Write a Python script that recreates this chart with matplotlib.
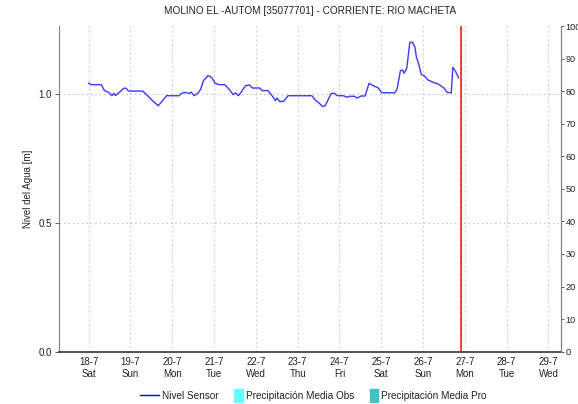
import matplotlib
matplotlib.use("Agg")
import matplotlib.pyplot as plt
from matplotlib.lines import Line2D
from matplotlib.patches import Patch, Rectangle
from matplotlib.legend_handler import HandlerPatch

plt.rcParams['font.family'] = ['Liberation Sans', 'DejaVu Sans']
plt.rcParams['font.size'] = 7

# horas desde 18-7 00:00 y nivel del sensor [m]
horas = [0, 1.5, 7.3, 9.1, 12, 13.3, 14.5, 15.4, 17.7, 20.2, 21.5, 22.9, 31.0,
         33.9, 36.7, 40, 42.5, 44.7, 52, 53.3, 55.4, 57.7, 58.9, 60.6, 63, 64.4,
         65.9, 68.6, 70.7, 72.6, 74.9, 78.1, 80.6, 83, 84.4, 85.9, 87.3, 90.1,
         92.4, 93.9, 98.3, 99.6, 103, 105.3, 107.3, 108.2, 109.7, 112, 114.5,
         128.2, 130.1, 132, 134.3, 135.8, 139.3, 141.1, 143, 146.3, 148.2, 150.1,
         152.4, 154.3, 156.4, 158.7, 161, 163.4, 166.3, 168.2, 175.8, 177.1, 179,
         180.2, 181.1, 182.7, 184.4, 185.9, 187.3, 188.2, 189.5, 191, 192.6,
         194.9, 197.7, 200.6, 204, 205.9, 208.2, 209.1, 210.7, 212.4]
nivel = [1.041, 1.035, 1.035, 1.012, 1.003, 0.992, 1.001, 0.993, 1.005, 1.021,
         1.021, 1.010, 1.010, 0.992, 0.973, 0.953, 0.973, 0.992, 0.992, 1.001,
         1.005, 1.001, 1.006, 0.992, 1.003, 1.018, 1.050, 1.070, 1.063, 1.040,
         1.035, 1.035, 1.018, 0.996, 1.003, 0.992, 1.003, 1.031, 1.034, 1.022,
         1.022, 1.012, 1.012, 0.992, 0.973, 0.983, 0.970, 0.970, 0.992, 0.992,
         0.975, 0.966, 0.950, 0.953, 1.001, 1.001, 0.992, 0.992, 0.986, 0.990,
         0.990, 0.983, 0.991, 0.991, 1.040, 1.031, 1.022, 1.004, 1.003, 1.018,
         1.089, 1.092, 1.079, 1.100, 1.199, 1.199, 1.182, 1.141, 1.115, 1.074,
         1.070, 1.053, 1.044, 1.038, 1.022, 1.005, 1.003, 1.102, 1.086, 1.061]

dias = ['18-7', '19-7', '20-7', '21-7', '22-7', '23-7', '24-7', '25-7', '26-7',
        '27-7', '28-7', '29-7']
semana = ['Sat', 'Sun', 'Mon', 'Tue', 'Wed', 'Thu', 'Fri', 'Sat', 'Sun', 'Mon',
          'Tue', 'Wed']
hora_actual = 214  # 26-7 ~22:00

fig = plt.figure(figsize=(5.78, 4.04), dpi=100)
ax = fig.add_axes([0.102, 0.1295, 0.868, 0.806])

gris = '#c8c8c8'
for i in range(len(dias)):
    ax.axvline(i * 24, color=gris, ls=(0, (1.5, 2.5)), lw=0.8, zorder=0)
for v in [0.5, 1.0]:
    ax.axhline(v, color=gris, ls=(0, (1.5, 2.5)), lw=0.8, zorder=0)

ax.plot(horas, nivel, color='#3a3aff', lw=1.0, zorder=3)
ax.axvline(hora_actual, color='#ff2020', lw=1.2, zorder=4)
ax.axvline(hora_actual, color='#a01818', lw=0.8, ls=(0, (1, 4)), zorder=5)

ax.set_xlim(-17, 271)
ax.set_ylim(0, 1.262)
ax.set_xticks([i * 24 for i in range(len(dias))])
ax.set_xticklabels([d + '\n' + s for d, s in zip(dias, semana)], linespacing=1.25)
ax.set_yticks([0.0, 0.5, 1.0])
ax.set_yticklabels(['0.0', '0.5', '1.0'])
ax.tick_params(axis='x', length=0, pad=4, colors='#222222')
ax.tick_params(axis='y', length=3, width=0.8, color='#666666', pad=2, colors='#222222')
ax.tick_params(axis='y', which='both', color='#666666')
ax.set_ylabel('Nivel del Agua [m]', labelpad=4, color='#222222')

ax.spines['top'].set_visible(False)
ax.spines['left'].set_color('#808080')
ax.spines['right'].set_color('#808080')
ax.spines['bottom'].set_color('#333333')
ax.spines['bottom'].set_linestyle((0, (1, 1)))
ax.spines['bottom'].set_linewidth(1.2)

ax2 = ax.twinx()
ax2.set_ylim(0, 100)
ax2.set_yticks(range(0, 101, 10))
ax2.tick_params(axis='y', length=2.5, width=0.8, color='#666666', pad=1,
                colors='#222222', labelsize=6.6)
for s in ['top', 'left', 'bottom']:
    ax2.spines[s].set_visible(False)
ax2.spines['right'].set_color('#808080')

ax.set_title('MOLINO EL -AUTOM [35077701] - CORRIENTE: RIO MACHETA',
             fontsize=7.2, pad=9, color='#222222')


def barra(legend, orig_handle, xdescent, ydescent, width, height, fontsize):
    return Rectangle((width - 6 - xdescent, -ydescent - 2), 6, height + 4)


handles = [Line2D([], [], color='#0000ff', lw=1.0),
           Patch(color='#66ffff'), Patch(color='#40c4c0')]
labels = ['Nivel Sensor', 'Precipitación Media Obs', 'Precipitación Media Pro']
fig.legend(handles, labels, loc='center', bbox_to_anchor=(0.542, 0.02), ncol=3,
           frameon=False, handlelength=1.9, handletextpad=0.3, columnspacing=0.5,
           fontsize=7.2, handler_map={Patch: HandlerPatch(patch_func=barra)},
           labelcolor='#222222')

fig.savefig('out.png', dpi=100)
